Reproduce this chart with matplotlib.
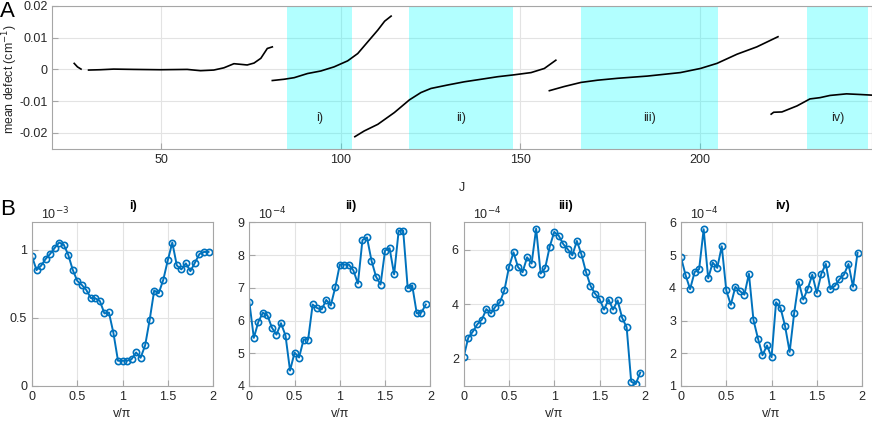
import numpy as np
import matplotlib
matplotlib.use("Agg")
from matplotlib import pyplot as plt

plt.rcParams['font.family'] = ['Liberation Sans', 'DejaVu Sans']
plt.rcParams['font.size'] = 9

# ---- panel A data: mean defect vs J, one list pair per branch ----
seg1_x = [25.7, 26.6, 27.6]
seg1_y = [0.0019, 0.0008, 0.0001]
seg2_x = [29.7, 33.0, 36.7, 42.3, 49.7, 57.2, 59.0, 60.9, 64.6, 67.4, 70.2, 72.1, 73.9, 75.8, 77.7, 79.5, 80.9]
seg2_y = [-0.0002, -0.0001, 0.0001, 0.0, -0.0001, 0.0, -0.0002, -0.0004, -0.0002, 0.0005, 0.0018,
          0.0016, 0.0014, 0.0020, 0.0035, 0.0066, 0.0071]
seg3_x = [80.9, 84.2, 87.0, 90.7, 94.4, 98.1, 101.9, 104.7, 107.5, 110.3, 112.2, 114.0]
seg3_y = [-0.0035, -0.0031, -0.0026, -0.0013, -0.0005, 0.0008, 0.0027, 0.0050, 0.0087, 0.0124, 0.0152, 0.0168]
seg4_x = [103.9, 106.5, 110.3, 114.9, 119.1, 122.3, 125.1, 129.8, 134.4, 139.1, 143.7, 148.3, 153.0, 156.7, 159.9]
seg4_y = [-0.0212, -0.0194, -0.0173, -0.0136, -0.0096, -0.0073, -0.0060, -0.0049, -0.0039, -0.0031,
          -0.0023, -0.0017, -0.0010, 0.0003, 0.0029]
seg5_x = [158.1, 162.2, 166.9, 171.5, 177.1, 185.4, 194.6, 200.2, 204.8, 210.4, 215.9, 221.8]
seg5_y = [-0.0067, -0.0054, -0.0041, -0.0034, -0.0028, -0.0021, -0.0010, 0.0003, 0.0019, 0.0048, 0.0071, 0.0103]
seg6_x = [219.9, 220.6, 222.9, 227.1, 230.7, 233.5, 236.3, 240.9, 244.6, 247.9]
seg6_y = [-0.0141, -0.0135, -0.0134, -0.0115, -0.0093, -0.0089, -0.0082, -0.0077, -0.0079, -0.0081]

bands = [(85, 103), (119, 148), (167, 205), (230, 247)]
band_labels = ['i)', 'ii)', 'iii)', 'iv)']

# ---- panel B data: 40 samples of v/pi ----
v = np.arange(40) * 0.05
val_i = [0.951, 0.850, 0.882, 0.931, 0.968, 1.012, 1.052, 1.037, 0.963, 0.852, 0.771, 0.741, 0.704, 0.645,
         0.643, 0.623, 0.532, 0.539, 0.387, 0.185, 0.185, 0.185, 0.197, 0.246, 0.207, 0.298, 0.485, 0.700,
         0.680, 0.778, 0.921, 1.052, 0.884, 0.855, 0.899, 0.842, 0.904, 0.968, 0.983, 0.983]
val_ii = [6.57, 5.47, 5.96, 6.24, 6.16, 5.78, 5.57, 5.92, 5.54, 4.47, 5.02, 4.87, 5.42, 5.42, 6.49, 6.38,
          6.34, 6.63, 6.46, 7.02, 7.71, 7.71, 7.71, 7.53, 7.13, 8.46, 8.54, 7.83, 7.34, 7.10, 8.14, 8.21,
          7.41, 8.74, 8.75, 6.99, 7.07, 6.22, 6.24, 6.49]
val_iii = [2.07, 2.77, 2.99, 3.26, 3.43, 3.82, 3.66, 3.91, 4.07, 4.52, 5.36, 5.90, 5.36, 5.17, 5.72, 5.49,
           6.77, 5.12, 5.33, 6.11, 6.65, 6.51, 6.20, 6.01, 5.79, 6.32, 5.83, 5.19, 4.68, 4.39, 4.19, 3.80,
           4.17, 3.80, 4.14, 3.50, 3.15, 1.16, 1.07, 1.49]
val_iv = [4.93, 4.39, 3.96, 4.48, 4.57, 5.79, 4.29, 4.77, 4.61, 5.27, 3.92, 3.48, 4.03, 3.90, 3.79, 4.43,
          3.02, 2.45, 1.94, 2.24, 1.88, 3.56, 3.38, 2.82, 2.04, 3.23, 4.18, 3.64, 3.97, 4.40, 3.84, 4.43,
          4.73, 3.96, 4.06, 4.26, 4.40, 4.73, 4.03, 5.07]
exponents = [-3, -4, -4, -4]
ylims = [(0, 1.2), (4, 9), (1, 7), (1, 6)]
yticks = [[0, 0.5, 1], [4, 5, 6, 7, 8, 9], [2, 4, 6], [1, 2, 3, 4, 5, 6]]

blue = '#0072BD'
gray_txt = '#262626'
spine_c = '#a6a6a6'
grid_c = '#e3e3e3'


def style(ax):
    for s in ax.spines.values():
        s.set_color(spine_c)
        s.set_linewidth(0.8)
    ax.tick_params(direction='in', colors=spine_c, labelcolor=gray_txt, length=4, width=0.8)
    ax.grid(True, color=grid_c, linewidth=0.8)
    ax.set_axisbelow(True)


fig = plt.figure(figsize=(8.72, 4.25), dpi=100)

# panel A
axA = fig.add_axes([0.060, 0.650, 0.940, 0.336])
style(axA)
for x0, x1 in bands:
    axA.axvspan(x0, x1, color='#00ffff', alpha=0.3, lw=0, zorder=1.5)
for (x0, x1), lab in zip(bands, band_labels):
    axA.text((x0 + x1) / 2, -0.0153, lab, ha='center', va='center', color=gray_txt, fontsize=9)
for sx, sy in [(seg1_x, seg1_y), (seg2_x, seg2_y), (seg3_x, seg3_y),
               (seg4_x, seg4_y), (seg5_x, seg5_y), (seg6_x, seg6_y)]:
    axA.plot(sx, sy, color='black', lw=1.2, zorder=3)
axA.set_xlim(19.6, 248)
axA.set_ylim(-0.025, 0.02)
axA.set_xticks([50, 100, 150, 200])
axA.set_yticks([-0.02, -0.01, 0, 0.01, 0.02])
axA.set_yticklabels(['-0.02', '-0.01', '0', '0.01', '0.02'])
axA.set_xlabel('J', color=gray_txt, fontsize=9, labelpad=12)
fig.text(10.5 / 872, 1 - 79 / 425, 'mean defect (cm$^{-1}$)', rotation=90,
         ha='center', va='center', color=gray_txt, fontsize=8.8)
fig.text(0.0, 0.998, 'A', fontsize=16, va='top', ha='left')

# panel B
lefts = [0.0367, 0.2859, 0.5318, 0.781]
for k, (vals, lab) in enumerate(zip([val_i, val_ii, val_iii, val_iv], band_labels)):
    ax = fig.add_axes([lefts[k], 0.0918, 0.2076, 0.385])
    style(ax)
    ax.plot(v, vals, '-o', color=blue, lw=1.4, ms=4.5, mfc='none', mew=1.2)
    ax.set_xlim(0, 2)
    ax.set_ylim(*ylims[k])
    ax.set_xticks([0, 0.5, 1, 1.5, 2])
    ax.set_xticklabels(['0', '0.5', '1', '1.5', '2'])
    ax.set_yticks(yticks[k])
    ax.set_yticklabels([('%g' % t) for t in yticks[k]])
    ax.set_xlabel('v/\u03c0', color=gray_txt, fontsize=9, labelpad=4)
    ax.text(0.56, 1.10, lab, transform=ax.transAxes, ha='center', va='center',
            fontweight='bold', fontsize=9)
    ax.text(0.05, 1.0, '10$^{%d}$' % exponents[k], transform=ax.transAxes,
            ha='left', va='bottom', color=gray_txt, fontsize=9)
fig.text(0.0, 0.532, 'B', fontsize=16, va='top', ha='left')

fig.savefig('out.png', dpi=100)
